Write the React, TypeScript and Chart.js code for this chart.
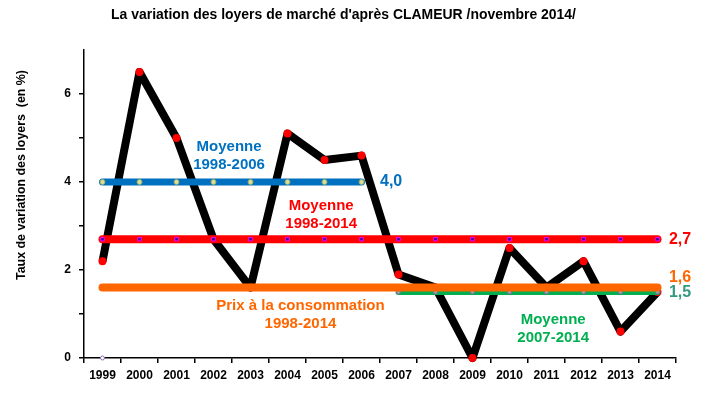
import React, { useEffect, useRef } from 'react';
import { Chart, registerables } from 'chart.js';

Chart.register(...registerables);

const years = ['1999', '2000', '2001', '2002', '2003', '2004', '2005', '2006', '2007', '2008', '2009', '2010', '2011', '2012', '2013', '2014'];
const loyers = [2.2, 6.5, 5.0, 2.7, 1.6, 5.1, 4.5, 4.6, 1.9, 1.6, 0.0, 2.5, 1.6, 2.2, 0.6, 1.5];
const moyenne1998_2006 = [4.0, 4.0, 4.0, 4.0, 4.0, 4.0, 4.0, 4.0, null, null, null, null, null, null, null, null];
const moyenne1998_2014 = [2.7, 2.7, 2.7, 2.7, 2.7, 2.7, 2.7, 2.7, 2.7, 2.7, 2.7, 2.7, 2.7, 2.7, 2.7, 2.7];
const prixConsommation = [1.6, 1.6, 1.6, 1.6, 1.6, 1.6, 1.6, 1.6, 1.6, 1.6, 1.6, 1.6, 1.6, 1.6, 1.6, 1.6];
const moyenne2007_2014 = [null, null, null, null, null, null, null, null, 1.5, 1.5, 1.5, 1.5, 1.5, 1.5, 1.5, 1.5];
const baseMarker = [0, null, null, null, null, null, null, null, null, null, null, null, null, null, null, null];

const yMin = 0;
const yMax = 7;
const yStep = 1;

const chartTitle = "La variation des loyers de marché d'après CLAMEUR /novembre 2014/";
const yTitle = 'Taux de variation des loyers  (en %)';
const labelBlue = ['Moyenne', '1998-2006'];
const labelRed = ['Moyenne', '1998-2014'];
const labelOrange = ['Prix à la consommation', '1998-2014'];
const labelGreen = ['Moyenne', '2007-2014'];
const valueBlue = '4,0';
const valueRed = '2,7';
const valueOrange = '1,6';
const valueGreen = '1,5';

const SANS = '"Liberation Sans", Arial, sans-serif';

const textPlugin = {
  id: 'textPlugin',
  afterDatasetsDraw(chart: any) {
    const ctx = chart.ctx as CanvasRenderingContext2D;
    const x = chart.scales.x;
    const y = chart.scales.y;

    const multi = (lines: string[], xi: number, yv: number, color: string) => {
      ctx.save();
      ctx.font = `bold 15px ${SANS}`;
      ctx.fillStyle = color;
      ctx.textAlign = 'center';
      ctx.textBaseline = 'middle';
      const px = x.getPixelForValue(xi);
      const py = y.getPixelForValue(yv);
      lines.forEach((l, i) => ctx.fillText(l, px, py + i * 18));
      ctx.restore();
    };
    const val = (t: string, xi: number, yv: number, color: string) => {
      ctx.save();
      ctx.font = `bold 16px ${SANS}`;
      ctx.fillStyle = color;
      ctx.textAlign = 'left';
      ctx.textBaseline = 'middle';
      ctx.fillText(t, x.getPixelForValue(xi), y.getPixelForValue(yv));
      ctx.restore();
    };

    multi(labelBlue, 3.42, 4.8, '#0070C0');
    multi(labelRed, 5.91, 3.46, '#FF0000');
    multi(labelOrange, 5.35, 1.18, '#FF6600');
    multi(labelGreen, 12.18, 0.86, '#00B050');

    val(valueBlue, 7.5, 4.0, '#0070C0');
    val(valueRed, 15.31, 2.7, '#FF0000');
    val(valueOrange, 15.31, 1.82, '#FF6600');
    val(valueGreen, 15.31, 1.48, '#339980');

    // chart title
    ctx.save();
    ctx.font = `bold 15px ${SANS}`;
    ctx.fillStyle = '#000';
    ctx.textAlign = 'left';
    ctx.textBaseline = 'middle';
    const tw = ctx.measureText(chartTitle).width;
    ctx.translate(111, 15);
    ctx.scale(465 / tw, 1);
    ctx.fillText(chartTitle, 0, 0);
    ctx.restore();

    // y axis title
    ctx.save();
    ctx.font = `bold 12px ${SANS}`;
    ctx.fillStyle = '#000';
    ctx.textAlign = 'center';
    ctx.textBaseline = 'middle';
    const yw = ctx.measureText(yTitle).width;
    ctx.translate(22, 175);
    ctx.rotate(-Math.PI / 2);
    ctx.scale(210 / yw, 1);
    ctx.fillText(yTitle, 0, 0);
    ctx.restore();
  },
};

export default function App() {
  const ref = useRef<HTMLCanvasElement | null>(null);

  useEffect(() => {
    if (!ref.current) return;
    const chart = new Chart(ref.current, {
      type: 'line',
      data: {
        labels: years,
        datasets: [
          {
            label: 'Loyers',
            data: loyers,
            borderColor: '#000000',
            borderWidth: 8,
            borderJoinStyle: 'round',
            pointRadius: 4,
            pointBackgroundColor: '#FF0000',
            pointBorderColor: '#FF0000',
            pointBorderWidth: 0,
            tension: 0,
            order: 10,
            clip: false,
          } as any,
          {
            label: 'Moyenne 2007-2014',
            data: moyenne2007_2014,
            borderColor: '#00B050',
            borderWidth: 6,
            borderCapStyle: 'round',
            pointRadius: 2,
            pointBackgroundColor: '#A0A0B0',
            pointBorderColor: '#8070A0',
            pointBorderWidth: 1,
            order: 5,
            clip: false,
          } as any,
          {
            label: 'Prix à la consommation',
            data: prixConsommation,
            borderColor: '#FF6600',
            borderWidth: 8,
            borderCapStyle: 'round',
            pointRadius: 0,
            order: 4,
            clip: false,
          } as any,
          {
            label: 'Moyenne 1998-2014',
            data: moyenne1998_2014,
            borderColor: '#FF0000',
            borderWidth: 8,
            borderCapStyle: 'round',
            pointStyle: 'rect',
            pointRadius: 2.5,
            pointBackgroundColor: '#330099',
            pointBorderColor: '#FF00FF',
            pointBorderWidth: 1,
            order: 3,
            clip: false,
          } as any,
          {
            label: 'Moyenne 1998-2006',
            data: moyenne1998_2006,
            borderColor: '#0070C0',
            borderWidth: 7,
            borderCapStyle: 'round',
            pointRadius: 2.5,
            pointBackgroundColor: '#D8E0A0',
            pointBorderColor: '#98A860',
            pointBorderWidth: 1,
            order: 2,
            clip: false,
          } as any,
          {
            label: 'Base',
            data: baseMarker,
            borderColor: 'transparent',
            showLine: false,
            pointRadius: 2,
            pointBackgroundColor: '#FFFFFF',
            pointBorderColor: '#9070B0',
            pointBorderWidth: 1,
            order: 1,
            clip: false,
          } as any,
        ],
      },
      options: {
        responsive: false,
        animation: false,
        devicePixelRatio: 1,
        layout: { padding: { top: 50, right: 44, left: 0, bottom: 0 } },
        plugins: {
          legend: { display: false },
          title: { display: false },
          tooltip: { enabled: false },
        },
        scales: {
          x: {
            type: 'category',
            offset: true,
            grid: {
              display: true,
              offset: true,
              drawOnChartArea: false,
              drawTicks: true,
              tickLength: 5,
              color: '#000',
              lineWidth: 1.5,
            },
            border: { display: true, color: '#000', width: 1.5 },
            ticks: {
              color: '#000',
              font: { family: SANS, size: 12, weight: 'bold' },
              maxRotation: 0,
              autoSkip: false,
              padding: 5,
            },
            afterFit: (s: any) => {
              s.height = 40;
            },
          },
          y: {
            min: yMin,
            max: yMax,
            grid: {
              display: true,
              drawOnChartArea: false,
              drawTicks: true,
              tickLength: 5,
              color: (c: any) => (c.tick && c.tick.value === yMax ? 'rgba(0,0,0,0)' : '#000'),
              lineWidth: 1.5,
            },
            border: { display: true, color: '#000', width: 1.5 },
            ticks: {
              stepSize: yStep,
              color: '#000',
              font: { family: SANS, size: 12, weight: 'bold' },
              padding: 8,
              callback: (v: any) => (Number(v) % 2 === 0 && Number(v) !== yMax ? String(v) : ''),
            },
            afterFit: (s: any) => {
              s.width = 84;
            },
          },
        },
      } as any,
      plugins: [textPlugin],
    });
    return () => chart.destroy();
  }, []);

  return (
    <div style={{ position: 'fixed', left: 0, top: 0, width: 720, height: 398, background: '#fff' }}>
      <canvas ref={ref} width={720} height={398} style={{ width: 720, height: 398, display: 'block' }} />
    </div>
  );
}
